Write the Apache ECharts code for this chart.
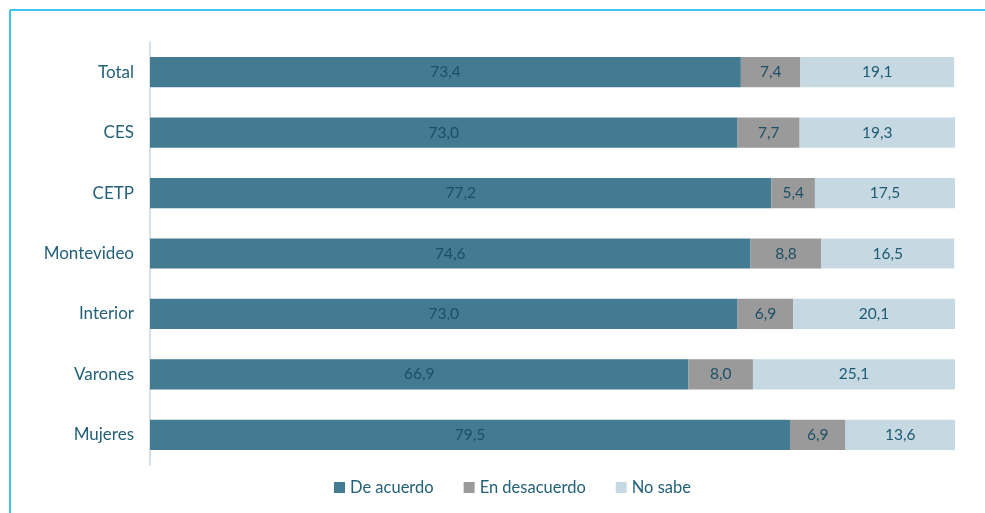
<!DOCTYPE html>
<html>
<head>
<meta charset="utf-8">
<script src="https://cdn.jsdelivr.net/npm/echarts@6/dist/echarts.min.js"></script>
<style>html,body{margin:0;padding:0;background:#fff}#c{width:985px;height:513px}</style>
</head>
<body>
<div id="c"></div>
<script>
var categories = ['Total', 'CES', 'CETP', 'Montevideo', 'Interior', 'Varones', 'Mujeres'];
var deAcuerdo = [73.4, 73.0, 77.2, 74.6, 73.0, 66.9, 79.5];
var enDesacuerdo = [7.4, 7.7, 5.4, 8.8, 6.9, 8.0, 6.9];
var noSabe = [19.1, 19.3, 17.5, 16.5, 20.1, 25.1, 13.6];
var seriesNames = ['De acuerdo', 'En desacuerdo', 'No sabe'];

var chart = echarts.init(document.getElementById('c'));
var FONT = 'Lato, "Open Sans", sans-serif';
function lbl(color) {
  return {
    show: true, position: 'inside', color: color, fontFamily: FONT, fontSize: 15.5,
    formatter: function (p) { return p.value.toFixed(1).replace('.', ','); }
  };
}
function mk(name, data, color, lblColor) {
  return {
    name: name, type: 'bar', stack: 'a', data: data, barWidth: '50%',
    itemStyle: { color: color }, label: lbl(lblColor),
    emphasis: { disabled: true }
  };
}
chart.setOption({
  animation: false,
  graphic: [
    { type: 'line', shape: { x1: 10, y1: 10, x2: 985, y2: 10 }, style: { stroke: '#3cc4f2', lineWidth: 2 } },
    { type: 'line', shape: { x1: 10, y1: 10, x2: 10, y2: 513 }, style: { stroke: '#3cc4f2', lineWidth: 2 } }
  ],
  grid: { left: 150, right: 30, top: 42, bottom: 48 },
  xAxis: { type: 'value', min: 0, max: 100, show: false },
  yAxis: {
    type: 'category', data: categories, inverse: true,
    axisLine: { lineStyle: { color: '#c9d6de', width: 1.5 } },
    axisTick: { show: false },
    axisLabel: { color: '#23607a', fontFamily: FONT, fontSize: 17, margin: 16 }
  },
  legend: {
    data: seriesNames, left: 329, top: 474, itemWidth: 11, itemHeight: 11, itemGap: 30,
    icon: 'rect',
    textStyle: { color: '#23607a', fontFamily: FONT, fontSize: 16.5 }
  },
  series: [
    mk(seriesNames[0], deAcuerdo, '#427b92', '#1d4f66'),
    mk(seriesNames[1], enDesacuerdo, '#9a9a9a', '#1d4f66'),
    mk(seriesNames[2], noSabe, '#c6d9e3', '#1d5a73')
  ]
});
</script>
</body>
</html>
